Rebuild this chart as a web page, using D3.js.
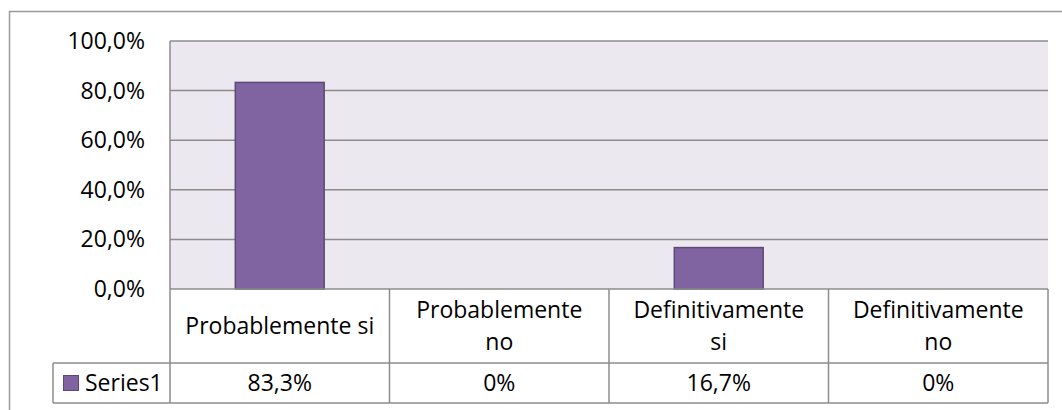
<!DOCTYPE html>
<html lang="es">
<head>
<meta charset="UTF-8" />
<title>Series1</title>
<script src="https://d3js.org/d3.v7.min.js"></script>
<style>
  html, body { margin: 0; padding: 0; background: #fff; }
  svg { display: block; }
  text { font-family: "Open Sans", "DejaVu Sans", sans-serif; font-size: 23px; fill: #000; }
</style>
</head>
<body>
<svg width="1062" height="410"></svg>
<script>
const categories = [['Probablemente si'], ['Probablemente', 'no'], ['Definitivamente', 'si'], ['Definitivamente', 'no']];
const values = [0.833, 0, 0.167, 0];
const valueLabels = ['83,3%', '0%', '16,7%', '0%'];
const yTicks = [0, 0.2, 0.4, 0.6, 0.8, 1.0];
const seriesName = 'Series1';

const svg = d3.select('svg');
const plotL = 170, plotR = 1048, plotT = 41, plotB = 289;
const rowCat = 363, rowVal = 403, legendLeft = 53;
const grid = '#8c8c8c', barFill = '#8064a2', barStroke = '#5e4a78';

// outer chart border (right and bottom fall outside the picture)
svg.append('rect')
  .attr('x', 9.5).attr('y', 11.5).attr('width', 1070).attr('height', 420)
  .attr('fill', 'none').attr('stroke', '#9a9a9a').attr('stroke-width', 1.5);

const x = d3.scaleBand().domain(d3.range(categories.length)).range([plotL, plotR]).padding(0);
const xb = d3.scaleBand().domain(d3.range(categories.length)).range([plotL, plotR])
  .paddingInner(0.595).paddingOuter(0.595 / 2);
const y = d3.scaleLinear().domain([0, 1]).range([plotB, plotT]);

svg.append('rect')
  .attr('x', plotL).attr('y', plotT).attr('width', plotR - plotL).attr('height', plotB - plotT)
  .attr('fill', '#ebe9ef');

// gridlines
svg.append('g').selectAll('line').data(yTicks.filter(d => d > 0)).join('line')
  .attr('x1', plotL).attr('x2', plotR)
  .attr('y1', d => y(d)).attr('y2', d => y(d))
  .attr('stroke', grid).attr('stroke-width', 1.5);

// y labels
const fmt = d => d3.format('.1f')(d * 100).replace('.', ',') + '%';
svg.append('g').selectAll('text').data(yTicks).join('text')
  .attr('x', 145).attr('y', d => y(d)).attr('dy', '0.35em')
  .attr('text-anchor', 'end').text(fmt);

// bars
svg.append('g').selectAll('rect').data(values).join('rect')
  .attr('x', (d, i) => xb(i)).attr('width', xb.bandwidth())
  .attr('y', d => y(d)).attr('height', d => y(0) - y(d))
  .attr('fill', barFill).attr('stroke', barStroke).attr('stroke-width', 1.5)
  .style('display', d => d > 0 ? null : 'none');

// data table
const t = svg.append('g').attr('stroke', grid).attr('stroke-width', 1.5);
t.append('line').attr('x1', plotL).attr('x2', plotR).attr('y1', plotB).attr('y2', plotB);
t.append('line').attr('x1', legendLeft).attr('x2', plotR).attr('y1', rowCat).attr('y2', rowCat);
t.append('line').attr('x1', legendLeft).attr('x2', plotR).attr('y1', rowVal).attr('y2', rowVal);
t.append('line').attr('x1', legendLeft).attr('x2', legendLeft).attr('y1', rowCat).attr('y2', rowVal);
t.append('line').attr('x1', plotL).attr('x2', plotL).attr('y1', plotT).attr('y2', rowVal);
t.selectAll('line.col').data(d3.range(categories.length)).join('line').attr('class', 'col')
  .attr('x1', i => x(i) + x.bandwidth()).attr('x2', i => x(i) + x.bandwidth())
  .attr('y1', plotB).attr('y2', rowVal);

const cat = svg.append('g').selectAll('text').data(categories).join('text')
  .attr('text-anchor', 'middle')
  .attr('transform', (d, i) => `translate(${x(i) + x.bandwidth() / 2},${(plotB + rowCat) / 2})`);
cat.selectAll('tspan').data(d => d.map((s, k) => ({ s, k, n: d.length }))).join('tspan')
  .attr('x', 0)
  .attr('y', d => (d.k - (d.n - 1) / 2) * 32)
  .attr('dy', '0.35em')
  .text(d => d.s);

svg.append('g').selectAll('text').data(valueLabels).join('text')
  .attr('text-anchor', 'middle')
  .attr('x', (d, i) => x(i) + x.bandwidth() / 2)
  .attr('y', (rowCat + rowVal) / 2).attr('dy', '0.35em')
  .text(d => d);

// legend key
svg.append('rect').attr('x', 63.5).attr('y', 375.5).attr('width', 15).attr('height', 15)
  .attr('fill', barFill).attr('stroke', barStroke).attr('stroke-width', 1);
svg.append('text').attr('x', 85).attr('y', (rowCat + rowVal) / 2).attr('dy', '0.35em').text(seriesName);
</script>
</body>
</html>
